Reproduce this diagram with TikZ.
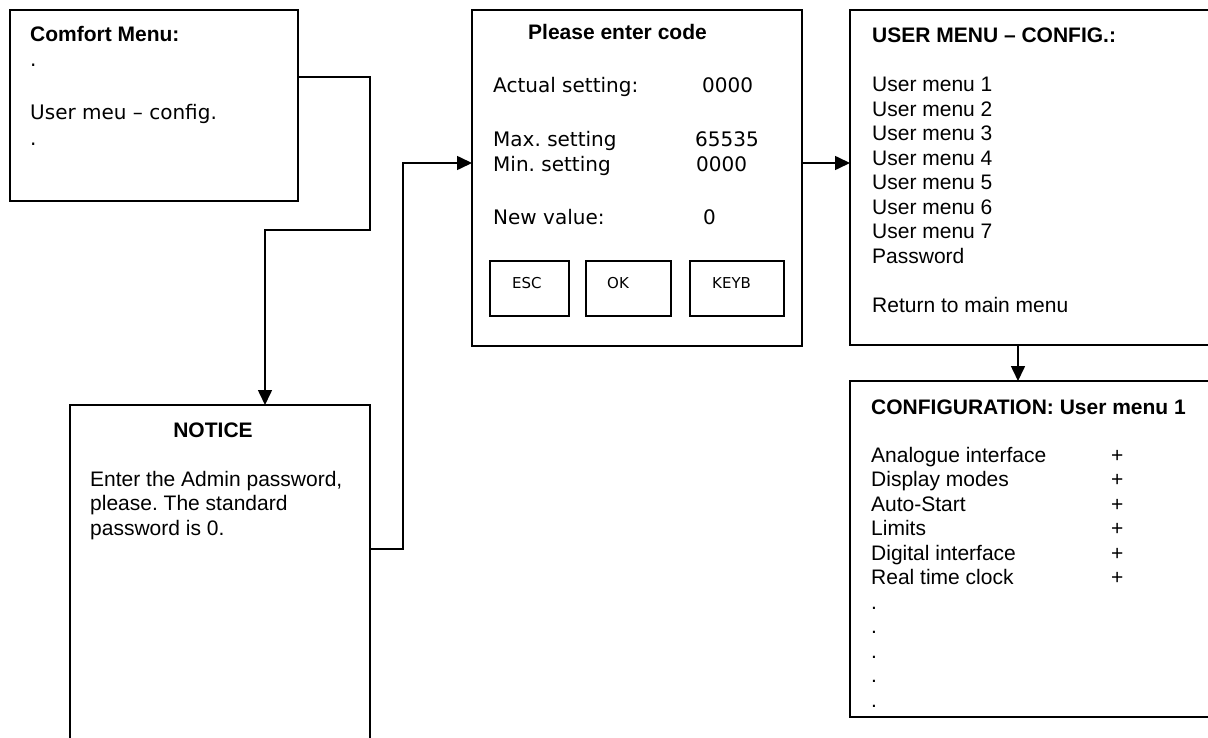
\documentclass[tikz,border=0pt]{standalone}
\usepackage{fontspec}
\setmainfont{Liberation Sans}
\newfontfamily\vfont{DejaVu Sans}
\usetikzlibrary{arrows.meta}
\frenchspacing
\tikzset{
  frame/.style={draw, line width=1.6pt, anchor=north west, inner sep=0pt, outer sep=0pt},
  conn/.style={line width=1.6pt, -{Triangle[length=15pt,width=14pt]}},
  ar/.style={anchor=base west, inner sep=0pt, font=\frenchspacing\fontsize{21}{24.5}\selectfont},
  arb/.style={ar, font=\frenchspacing\fontsize{21}{24.5}\selectfont\bfseries},
  vt/.style={anchor=base west, inner sep=0pt, font=\frenchspacing\vfont\fontsize{20}{26}\selectfont},
  vs/.style={anchor=base west, inner sep=0pt, font=\vfont\fontsize{15}{18}\selectfont},
}
\begin{document}
\begin{tikzpicture}[x=1pt,y=-1pt]
\useasboundingbox (0,0) rectangle (1208,738);
\fill[white] (0,0) rectangle (1208,738);
\clip (0,0) rectangle (1208,738);

% boxes
\node[frame, minimum width=288pt, minimum height=191pt] (comfort) at (10,10) {};
\node[frame, minimum width=300pt, minimum height=380pt] (notice) at (70,405) {};
\node[frame, minimum width=330pt, minimum height=336pt] (pec) at (472,10) {};
\node[frame, minimum width=79pt, minimum height=55pt] (esc) at (490,261) {};
\node[frame, minimum width=85pt, minimum height=55pt] (ok) at (586,261) {};
\node[frame, minimum width=94pt, minimum height=55pt] (keyb) at (690,261) {};
\node[frame, minimum width=380pt, minimum height=335pt] (umenu) at (850,10) {};
\node[frame, minimum width=380pt, minimum height=336pt] (config) at (850,381) {};

% connectors
\draw[conn] ([yshift=-67pt]comfort.north east) -| (370,230) -| ([xshift=45pt]notice.north);
\draw[conn] ([yshift=-144pt]notice.north east) -| (403,163) -- ([yshift=15pt]pec.west);
\draw[conn] ([yshift=15pt]pec.east) -- ([yshift=15pt]pec.east -| umenu.west);
\draw[conn] ([xshift=168pt]umenu.south west) -- ([xshift=168pt]config.north west);

% comfort menu text
\node[arb] (ct) at (30,42) {Comfort Menu:};
\node[vt] (cd1) at (30,67) {.};
\node[vt] (cu) at (30,120) {User meu – config.};
\node[vt] (cd2) at (30,146) {.};

% notice text
\node[arb, anchor=base] (nt) at (213,437) {NOTICE};
\node[ar] (n1) at (90,486) {Enter the Admin password,};
\node[ar] (n2) at (90,510.5) {please. The standard};
\node[ar] (n3) at (90,535) {password is 0.};

% please enter code text
\node[arb] (pt) at (528,40) {Please enter code};
\node[vt] (pa) at (493,93) {Actual setting:};
\node[vt] (pav) at (702,93) {0000};
\node[vt] (pm) at (493,147) {Max. setting};
\node[vt] (pmv) at (695,147) {65535};
\node[vt] (pn) at (493,172) {Min. setting};
\node[vt] (pnv) at (696,172) {0000};
\node[vt] (pv) at (493,225) {New value:};
\node[vt] (pvv) at (703,225) {0};
\node[vs] (escl) at (512,288) {ESC};
\node[vs] (okl) at (607,288) {OK};
\node[vs] (keybl) at (712,288) {KEYB};

% user menu text
\node[arb] (ut) at (872,43) {USER MENU – CONFIG.:};
\foreach \t [count=\i] in {User menu 1,User menu 2,User menu 3,User menu 4,User menu 5,User menu 6,User menu 7,Password}
  \node[ar] (um\i) at (872,{92+24.5*(\i-1)}) {\t};
\node[ar] (uret) at (872,312.5) {Return to main menu};

% configuration text
\node[arb] (cft) at (871,414) {CONFIGURATION: User menu 1};
\foreach \t [count=\i] in {Analogue interface,Display modes,Auto-Start,Limits,Digital interface,Real time clock}{
  \node[ar] (cf\i) at (871,{462+24.5*(\i-1)}) {\t};
  \node[ar] (cp\i) at (1111,{462+24.5*(\i-1)}) {+};
}
\foreach \i in {0,...,4}
  \node[ar] (cdot\i) at (871,{609+24.5*\i}) {.};
\end{tikzpicture}
\end{document}
